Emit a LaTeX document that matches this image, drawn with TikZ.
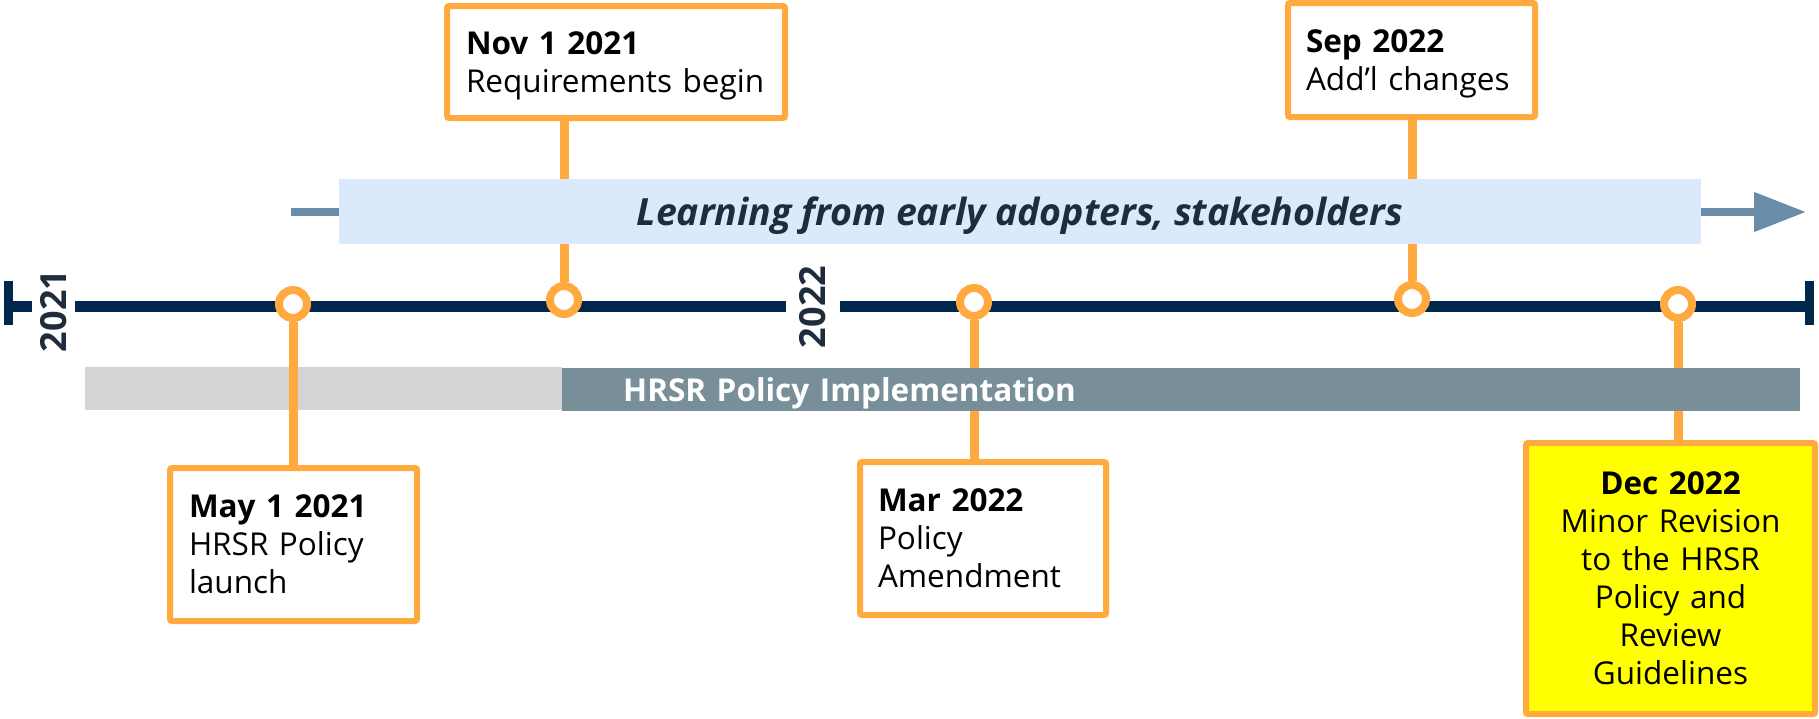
\documentclass[tikz,border=0pt]{standalone}
\usepackage{fontspec}
\setmainfont{Open Sans}
\usetikzlibrary{arrows.meta}
\definecolor{evorange}{HTML}{FFAA3F}
\definecolor{navy}{HTML}{00284D}
\definecolor{yeartxt}{HTML}{1F2C3D}
\definecolor{learnfill}{HTML}{DAE9FC}
\definecolor{arrowblue}{HTML}{6A8EAA}
\definecolor{barlight}{HTML}{D4D4D4}
\definecolor{bardark}{HTML}{788F9A}
\definecolor{hiyellow}{HTML}{FFFF00}
\pgfdeclarelayer{bg}
\pgfsetlayers{bg,main}
\begin{document}
\begin{tikzpicture}[x=1pt,y=-1pt,
  evbox/.style={draw=evorange, line width=6pt, fill=white, rounded corners=2pt,
    align=left, inner ysep=0pt, text=black, font=\fontsize{31.5}{38}\selectfont},
  conn/.style={draw=evorange, line width=9pt},
  dot/.style={circle, draw=evorange, line width=8pt, fill=white, minimum size=28pt, inner sep=0pt},
  axis/.style={draw=navy, line width=11pt},
  capbar/.style={draw=navy, line width=9pt},
  year/.style={rotate=90, text=yeartxt, inner sep=0pt, font=\fontsize{36}{40}\selectfont\bfseries},
  flow/.style={draw=arrowblue, line width=7.5pt},
  bar/.style={inner sep=0pt, minimum height=43pt}
]
\useasboundingbox (0,0) rectangle (1819,718);

% background layer: light bar
\begin{pgfonlayer}{bg}
  \node[bar, fill=barlight, minimum width=477pt] (graybar) at (323.5,388.5) {};
\end{pgfonlayer}

% learning band
\node[fill=learnfill, minimum width=1362pt, minimum height=65pt, inner sep=0pt,
      text=yeartxt, font=\fontsize{37.5}{42}\selectfont\bfseries\itshape,
      text height=27pt, text depth=0pt] (learn) at (1020,211.5)
      {Learning from early adopters, stakeholders};
\coordinate (arrL) at (291,212);
\coordinate (arrR) at (1806,212);
\draw[flow] (arrL) -- (learn.west |- arrL);
\draw[flow, -{Triangle[length=52pt,width=38pt]}] (learn.east |- arrR) -- (arrR);

% implementation bar
\node[bar, fill=bardark, minimum width=1238pt, anchor=west, inner xsep=61pt,
      text width=1116pt, align=left, text=white,
      font=\fontsize{31.5}{36}\selectfont\bfseries, text height=23pt, text depth=0pt]
      (impl) at (562,389.5) {HRSR Policy Implementation};

% axis
\node[year] (y2021) at (54,311) {2021};
\node[year] (y2022) at (813,307) {2022};
\coordinate (capL) at (8.5,306);
\coordinate (capR) at (1809.5,306);
\draw[capbar] ([yshift=-18.5pt]capL) -- ([yshift=25pt]capL);
\draw[axis] (4,306) -- (32,306);
\draw[axis] (75,306) -- (786,306);
\draw[axis] (840,306) -- (1805,306);
\draw[capbar] ([yshift=-18.5pt]capR) -- ([yshift=25pt]capR);

% event boxes
\node[evbox, minimum width=338pt, minimum height=112pt, inner xsep=19pt, text width=300pt, text depth=38pt]
  (nov) at (616,62) {\textbf{Nov 1 2021}\\Requirements~begin};
\node[evbox, minimum width=247pt, minimum height=114pt, inner xsep=18pt, text width=211pt, text depth=37pt]
  (sep) at (1411.5,60) {\textbf{Sep 2022}\\Add’l~changes};
\node[evbox, minimum width=247pt, minimum height=153pt, inner xsep=19pt, text width=209pt]
  (may) at (293.5,544.5) {\textbf{May 1 2021}\\HRSR Policy\\launch};
\node[evbox, minimum width=246pt, minimum height=153pt, inner xsep=18pt, text width=210pt]
  (mar) at (983,538.5) {\textbf{Mar 2022}\\Policy\\Amendment};
\node[evbox, fill=hiyellow, align=center, minimum width=289pt, minimum height=271pt, inner xsep=14.5pt, text width=260pt]
  (dec) at (1670.5,578.5) {\textbf{Dec 2022}\\Minor Revision\\to the HRSR\\Policy and\\Review\\Guidelines};

% milestone dots
\node[dot] (dmay) at (293,304) {};
\node[dot] (dnov) at (564,300) {};
\node[dot] (dmar) at (974,302) {};
\node[dot] (dsep) at (1412,299) {};
\node[dot] (ddec) at (1678,304) {};

\begin{pgfonlayer}{bg}
  \draw[conn] (dmay.south) -- (dmay.south |- may.north);
  \draw[conn] (dnov.north) -- (dnov.north |- nov.south);
  \draw[conn] (dmar.south) -- (dmar.south |- mar.north);
  \draw[conn] (dsep.north) -- (dsep.north |- sep.south);
  \draw[conn] (ddec.south) -- (ddec.south |- dec.north);
\end{pgfonlayer}
\end{tikzpicture}
\end{document}
